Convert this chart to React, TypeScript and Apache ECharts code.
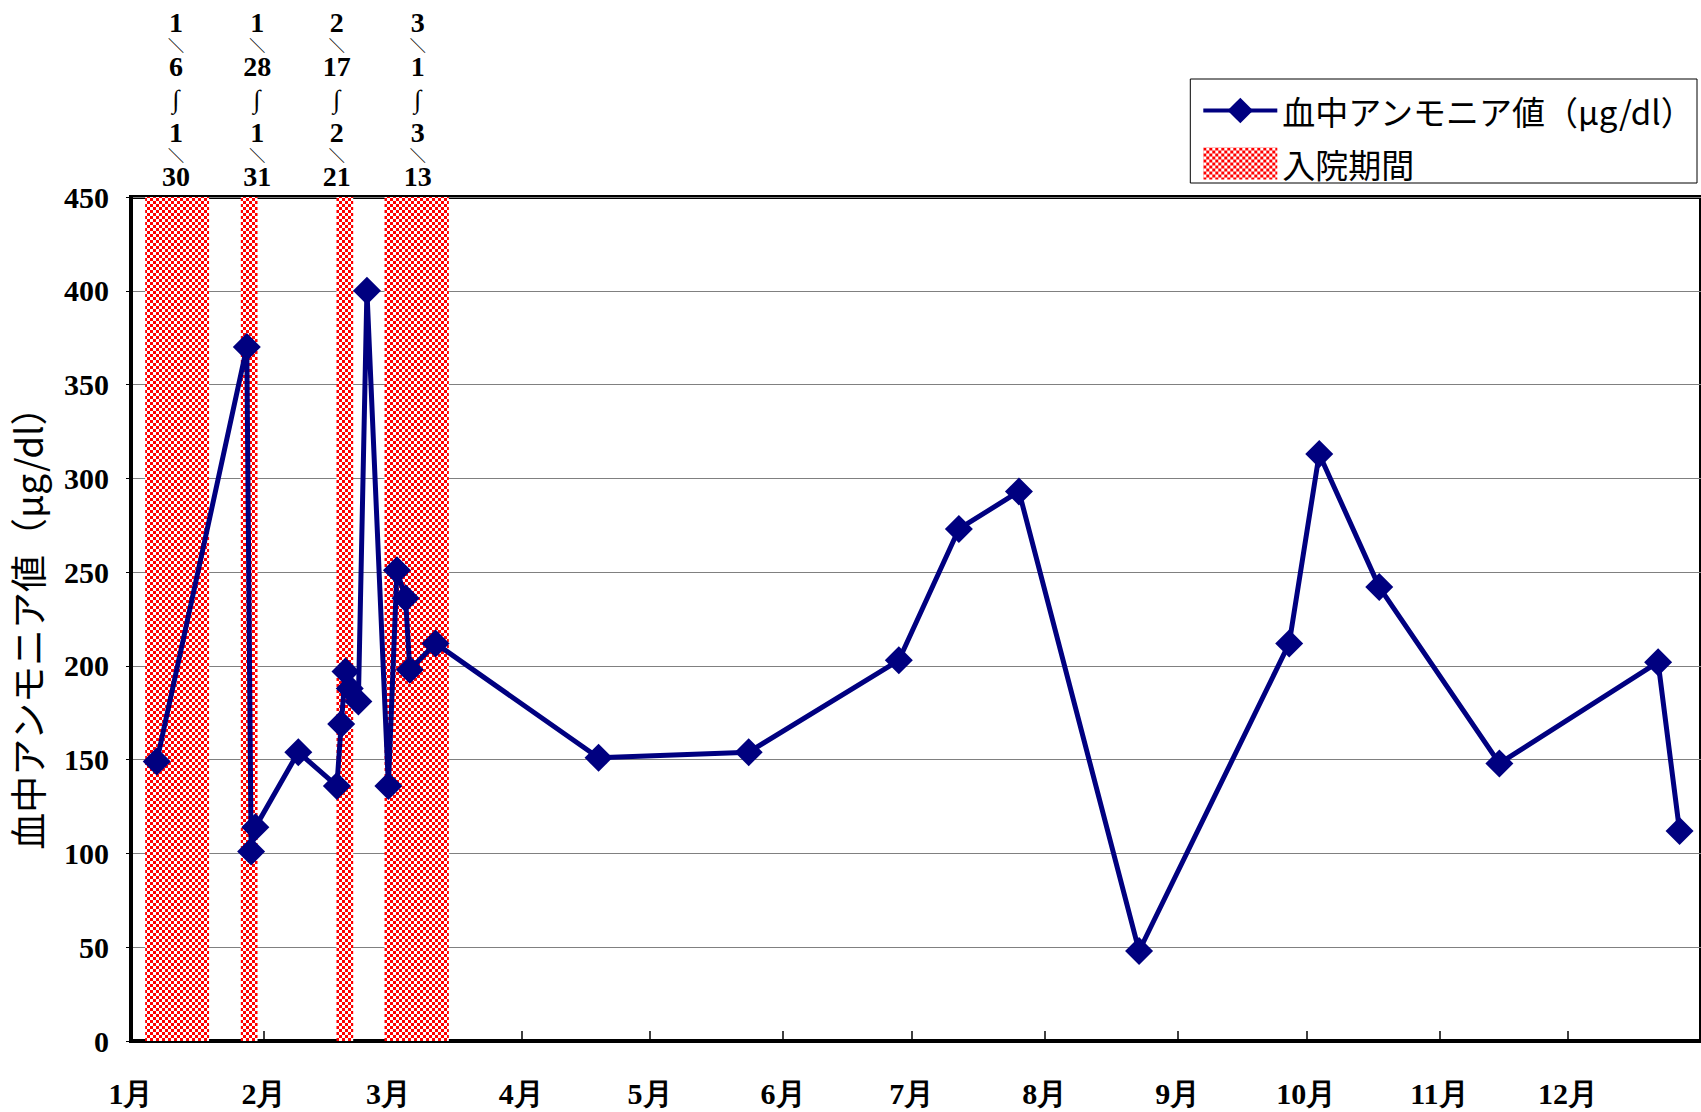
import React, { useEffect, useRef } from "react";
import * as echarts from "echarts";

// Leap year (month ticks fit a 366-day year)
const YEAR = 2004;

// Blood ammonia measurements
const measureDates = [
  "1/7", "1/28", "1/29", "1/30", "2/9", "2/18", "2/19", "2/20", "2/21", "2/23",
  "2/25", "3/1", "3/3", "3/5", "3/6", "3/12", "4/19", "5/24", "6/28", "7/12",
  "7/26", "8/23", "9/27", "10/4", "10/18", "11/15", "12/22", "12/27",
];
const ammoniaValues = [
  149, 370, 101, 114, 154, 136, 169, 197, 188, 181,
  400, 136, 251, 236, 198, 212, 151, 154, 203, 273,
  293, 48, 212, 313, 242, 148, 202, 112,
];

// Hospital stays (labels and drawn extents in day-of-year)
const stayStartText = ["1/6", "1/28", "2/17", "3/1"];
const stayEndText = ["1/30", "1/31", "2/21", "3/13"];
const stayStartDay = [3.3, 25.6, 47.9, 59.1];
const stayEndDay = [18.2, 29.5, 51.8, 74.1];

const monthNumbers = [1, 2, 3, 4, 5, 6, 7, 8, 9, 10, 11, 12];
const yTicks = { min: 0, max: 450, interval: 50 };

const seriesName = "血中アンモニア値（μg/dl）";
const stayName = "入院期間";

// layout nudges for the stay labels (pixels)
const stayLabelNudge = [-1, 8, -8, 1];

function dayOfYear(md: string): number {
  const [m, d] = md.split("/").map(Number);
  return (Date.UTC(YEAR, m - 1, d) - Date.UTC(YEAR, 0, 1)) / 86400000;
}

function makeChecker(): string {
  const c = document.createElement("canvas");
  c.width = 6;
  c.height = 6;
  const ctx = c.getContext("2d")!;
  ctx.fillStyle = "#ffffff";
  ctx.fillRect(0, 0, 6, 6);
  ctx.fillStyle = "#ff0000";
  ctx.fillRect(0, 0, 3, 3);
  ctx.fillRect(3, 3, 3, 3);
  return c.toDataURL();
}

function stayLabel(i: number): string {
  const [m1, d1] = stayStartText[i].split("/");
  const [m2, d2] = stayEndText[i].split("/");
  return [`{d|${m1}}`, `{s|＼}`, `{d|${d1}}`, `{w|∫}`, `{d|${m2}}`, `{s|＼}`, `{d|${d2}}`].join("\n");
}

export default function App() {
  const ref = useRef<HTMLDivElement>(null);

  useEffect(() => {
    if (!ref.current) return;
    const chart = echarts.init(ref.current, undefined, { renderer: "svg" });
    const pattern: any = {
      image: makeChecker(),
      repeat: "repeat",
      imageWidth: 6,
      imageHeight: 6,
    };
    const monthDays = monthNumbers.map((m) => dayOfYear(`${m}/1`));
    const serif = "'Liberation Serif', 'Times New Roman', serif";
    const sans = "'Noto Sans CJK JP', 'Noto Sans', sans-serif";

    const option: any = {
      animation: false,
      backgroundColor: "#ffffff",
      grid: {
        left: 130,
        top: 197,
        right: -3,
        bottom: 71,
        show: true,
        borderColor: "#000",
        borderWidth: 4,
      },
      legend: {
        right: 4,
        top: 79,
        orient: "vertical",
        padding: [15, 2, 3, 11],
        itemGap: 20,
        itemWidth: 74,
        itemHeight: 32,
        borderColor: "#000",
        borderWidth: 1,
        textStyle: { fontFamily: sans, fontSize: 33, color: "#000" },
        lineStyle: { width: 4, color: "#000080" },
        data: [{ name: seriesName }, { name: stayName, icon: "rect" }],
      },
      xAxis: {
        type: "value",
        min: 0,
        max: 366,
        splitLine: { show: false },
        axisLine: { show: true, lineStyle: { color: "#000", width: 4 } },
        axisTick: {
          show: true,
          inside: true,
          length: 10,
          customValues: monthDays,
          lineStyle: { color: "#000", width: 1.5 },
        },
        axisLabel: {
          customValues: monthDays,
          formatter: (v: number) => {
            const i = monthDays.indexOf(v);
            return i >= 0 ? `${monthNumbers[i]}月` : "";
          },
          fontFamily: serif,
          fontWeight: "bold",
          fontSize: 30,
          color: "#000",
          margin: 37,
        },
      },
      yAxis: {
        type: "value",
        min: yTicks.min,
        max: yTicks.max,
        interval: yTicks.interval,
        name: seriesName,
        nameLocation: "middle",
        nameGap: 86,
        nameTextStyle: { fontFamily: sans, fontSize: 37, color: "#000" },
        axisLine: { show: true, lineStyle: { color: "#000", width: 4 } },
        axisTick: { show: true, length: 5, lineStyle: { color: "#000", width: 1 } },
        axisLabel: {
          fontFamily: serif,
          fontWeight: "bold",
          fontSize: 30,
          color: "#000",
          margin: 22,
        },
        splitLine: { show: true, lineStyle: { color: "#808080", width: 1 } },
      },
      series: [
        {
          name: seriesName,
          type: "line",
          z: 5,
          data: measureDates.map((d, i) => [dayOfYear(d), ammoniaValues[i]]),
          symbol: "diamond",
          symbolSize: 28,
          lineStyle: { color: "#000080", width: 5 },
          itemStyle: { color: "#000080" },
        },
        {
          name: stayName,
          type: "bar",
          data: [],
          clip: false,
          itemStyle: { color: pattern },
          markArea: {
            silent: true,
            itemStyle: { color: pattern },
            label: {
              show: true,
              position: "top",
              distance: 8,
              color: "#000",
              formatter: (p: any) => stayLabel(p.dataIndex),
              rich: {
                d: { fontFamily: serif, fontWeight: "bold", fontSize: 28, lineHeight: 26, color: "#000" },
                s: { fontFamily: sans, fontWeight: "bold", fontSize: 16, lineHeight: 18, color: "#000" },
                w: { fontFamily: serif, fontWeight: "bold", fontSize: 26, lineHeight: 40, color: "#000" },
              },
            },
            data: stayStartDay.map((s, i) => [
              { xAxis: s, yAxis: -4, label: { offset: [stayLabelNudge[i], 0] } },
              { xAxis: stayEndDay[i], yAxis: yTicks.max },
            ]),
          },
        },
      ],
    };
    chart.setOption(option);
    return () => chart.dispose();
  }, []);

  return (
    <div
      ref={ref}
      style={{ position: "fixed", left: 0, top: 0, width: 1701, height: 1112, background: "#fff" }}
    />
  );
}
